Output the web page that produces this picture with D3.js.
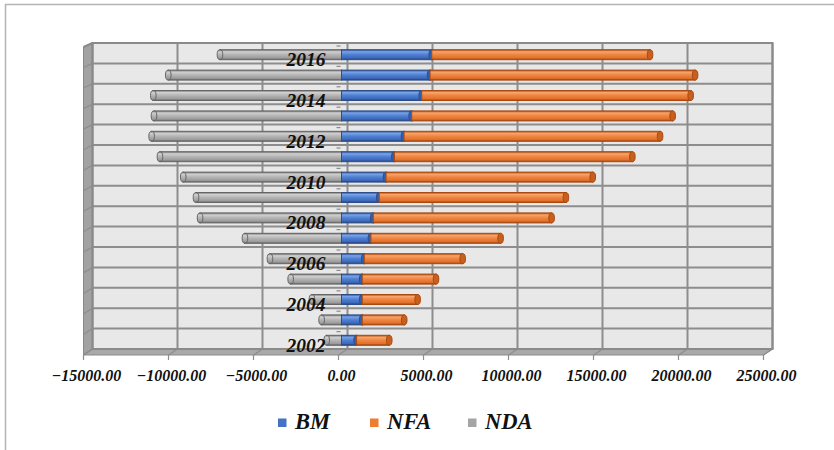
<!DOCTYPE html>
<html>
<head>
<meta charset="utf-8">
<script src="https://cdnjs.cloudflare.com/ajax/libs/d3/7.8.5/d3.min.js"></script>
<style>
  html, body { margin: 0; padding: 0; background: #fff; }
  svg { display: block; }
  text { font-family: "Liberation Serif", "Times New Roman", serif; font-weight: bold; font-style: italic; fill: #111; }
</style>
</head>
<body>
<svg id="chart" width="834" height="450"></svg>
<script>
// Years shown on the category axis (bottom to top)
const years = [2002, 2003, 2004, 2005, 2006, 2007, 2008, 2009, 2010, 2011, 2012, 2013, 2014, 2015, 2016];
// Base money
const bm  = [890, 1220, 1220, 1220, 1340, 1730, 1870, 2220, 2620, 3110, 3680, 4130, 4720, 5210, 5310];
// Net foreign assets
const nfa = [1920, 2470, 3260, 4340, 5790, 7630, 10490, 10980, 12160, 14000, 15060, 15350, 15820, 15590, 12840];
// Net domestic assets
const nda = [-870, -1170, -1740, -2990, -4210, -5680, -8320, -8560, -9310, -10680, -11170, -11030, -11070, -10190, -7150];
const xTicks = [-15000, -10000, -5000, 0, 5000, 10000, 15000, 20000, 25000];
const labeledYears = [2002, 2004, 2006, 2008, 2010, 2012, 2014, 2016];
const seriesNames = ["BM", "NFA", "NDA"];
const seriesColors = ["#4472C4", "#ED7D31", "#A5A5A5"];

const svg = d3.select("#chart");
const defs = svg.append("defs");

// outer chart-area frame
svg.append("rect").attr("x", 5.5).attr("y", 4.5).attr("width", 840).attr("height", 460)
  .attr("fill", "#fff").attr("stroke", "#b4b4b4").attr("stroke-width", 1.5);

// 3D box geometry: back wall, and a front plane shifted left/down
const depthX = -9, depthY = 6;
const x = d3.scaleLinear().domain([-15000, 25000]).range([92.5, 772.5]);   // back wall
const xBar = v => x(v) - 6;                                               // bars sit inside the box
const xFront = v => x(v) + depthX;                                        // front edge

const y = d3.scaleBand().domain(years.slice().reverse()).range([43, 349]).padding(0);
const wallTop = 43, wallBottom = 349;
const wallL = x(-15000), wallR = x(25000);

// back wall
svg.append("rect").attr("x", wallL).attr("y", wallTop).attr("width", wallR - wallL).attr("height", wallBottom - wallTop)
  .attr("fill", "#e8e8e8");
// left side wall
svg.append("path")
  .attr("d", `M${wallL + depthX},${wallTop + 4} L${wallL},${wallTop} L${wallL},${wallBottom} L${wallL + depthX},${wallBottom + depthY} Z`)
  .attr("fill", "#a2a2a2").attr("stroke", "#8a8a8a").attr("stroke-width", 1);
// floor
svg.append("path")
  .attr("d", `M${wallL},${wallBottom} L${wallR},${wallBottom} L${wallR + depthX},${wallBottom + depthY} L${wallL + depthX},${wallBottom + depthY} Z`)
  .attr("fill", "#a9a9a9").attr("stroke", "#8a8a8a").attr("stroke-width", 1);

const grid = svg.append("g").attr("stroke", "#8d8d8d").attr("stroke-width", 2).attr("fill", "none");
// horizontal gridlines (category boundaries) on back wall and side wall
const bounds = years.map(d => y(d)).concat([wallBottom]);
bounds.forEach(b => {
  grid.append("line").attr("x1", wallL).attr("x2", wallR).attr("y1", b).attr("y2", b);
  grid.append("line").attr("x1", wallL + depthX).attr("x2", wallL)
    .attr("y1", b + 4 + (b - wallTop) / (wallBottom - wallTop) * (depthY - 4)).attr("y2", b)
    .attr("stroke-width", 1.2);
});
// vertical gridlines on back wall, continuing across the floor
xTicks.forEach(t => {
  grid.append("line").attr("x1", x(t)).attr("x2", x(t)).attr("y1", wallTop).attr("y2", wallBottom);
  grid.append("line").attr("x1", x(t)).attr("x2", xFront(t)).attr("y1", wallBottom).attr("y2", wallBottom + depthY).attr("stroke-width", 1.2);
  grid.append("line").attr("x1", xFront(t)).attr("x2", xFront(t)).attr("y1", wallBottom + depthY).attr("y2", wallBottom + depthY + 5).attr("stroke-width", 1.2);
});
// frame edges of the back wall
svg.append("rect").attr("x", wallL).attr("y", wallTop).attr("width", wallR - wallL).attr("height", wallBottom - wallTop)
  .attr("fill", "none").attr("stroke", "#8a8a8a").attr("stroke-width", 2);
svg.append("line").attr("x1", wallL + depthX).attr("x2", wallL).attr("y1", wallTop + 4).attr("y2", wallTop)
  .attr("stroke", "#8a8a8a").attr("stroke-width", 2);

// cylinder shading gradients
const shades = {
  BM:  ["#2d4f8f", "#7aa3e6", "#4d7fd3", "#3d69ba", "#253f73"],
  NFA: ["#a84a10", "#f7a56a", "#ef8442", "#e2712b", "#9c440f"],
  NDA: ["#6f6f6f", "#d0d0d0", "#b4b4b4", "#9c9c9c", "#666666"]
};
Object.entries(shades).forEach(([k, c]) => {
  const g = defs.append("linearGradient").attr("id", "g" + k).attr("x1", 0).attr("x2", 0).attr("y1", 0).attr("y2", 1);
  [0, 0.2, 0.5, 0.82, 1].forEach((o, i) => g.append("stop").attr("offset", o).attr("stop-color", c[i]));
});
const capColor = { BM: "#3560a8", NFA: "#c75f1e", NDA: "#8e8e8e" };
const edgeColor = { BM: "#2c4d8a", NFA: "#a9490f", NDA: "#666666" };

// stacked segments: negative NDA to the left of zero, BM then NFA to the right
const segs = [];
years.forEach((yr, i) => {
  segs.push({ yr, key: "NDA", x0: nda[i], x1: 0, end: "left" });
  segs.push({ yr, key: "BM", x0: 0, x1: bm[i], end: "right" });
  segs.push({ yr, key: "NFA", x0: bm[i], x1: bm[i] + nfa[i], end: "right" });
});

const barH = 10, barOff = 1.5;
const bars = svg.append("g");
segs.forEach(s => {
  const cy = y(s.yr) + y.bandwidth() / 2 + barOff;
  const a = xBar(s.x0), b = xBar(s.x1);
  const g = bars.append("g");
  g.append("rect").attr("x", a).attr("y", cy - barH / 2).attr("width", b - a).attr("height", barH)
    .attr("fill", `url(#g${s.key})`).attr("stroke", edgeColor[s.key]).attr("stroke-width", 1);
  const ex = s.end === "right" ? b : a;
  g.append("ellipse").attr("cx", ex).attr("cy", cy).attr("rx", 2.8).attr("ry", barH / 2)
    .attr("fill", s.key === "NDA" ? `url(#gNDA)` : capColor[s.key]).attr("stroke", edgeColor[s.key]).attr("stroke-width", 1);
});

// small tick marks of the category axis at zero
const ticksG = svg.append("g").attr("stroke", "#8a8a8a").attr("stroke-width", 1.2);
bounds.slice(0, -1).forEach(b => {
  ticksG.append("line").attr("x1", xBar(0) - 5).attr("x2", xBar(0) - 1).attr("y1", b + 3).attr("y2", b + 3);
});

// category labels
svg.append("g").selectAll("text").data(labeledYears).join("text")
  .attr("x", xBar(0) - 16).attr("y", d => y(d) + y.bandwidth() / 2 + 13)
  .attr("text-anchor", "end").attr("font-size", 19.5).text(d => d);

// value axis labels
svg.append("g").selectAll("text").data(xTicks).join("text")
  .attr("x", d => xFront(d) + 3).attr("y", 381)
  .attr("text-anchor", "middle").attr("font-size", 16)
  .text(d => d3.format(".2f")(d));

// legend
const legendX = [278, 370, 468];
const lg = svg.append("g");
seriesNames.forEach((n, i) => {
  lg.append("rect").attr("x", legendX[i]).attr("y", 418.5).attr("width", 8.5).attr("height", 8.5)
    .attr("fill", seriesColors[i]);
  lg.append("text").attr("x", legendX[i] + 17).attr("y", 429).attr("font-size", 22.5).text(n);
});
</script>
</body>
</html>
